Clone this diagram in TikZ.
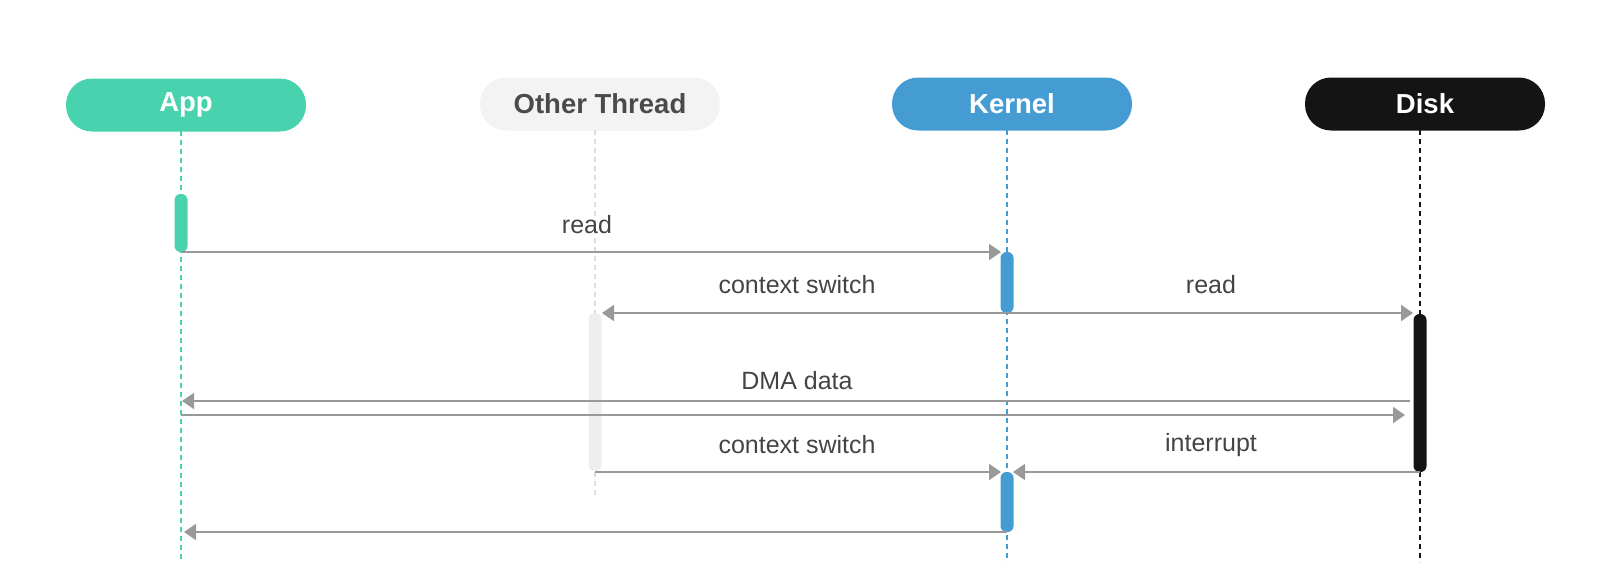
\documentclass[tikz,border=0pt]{standalone}
\usepackage{fontspec}
\setmainfont{Liberation Sans}
\usetikzlibrary{arrows.meta}
\definecolor{appc}{HTML}{48D3AE}
\definecolor{kerc}{HTML}{459CD3}
\definecolor{diskc}{HTML}{141414}
\definecolor{othc}{HTML}{F3F3F3}
\definecolor{othtext}{HTML}{4A4A4A}
\definecolor{arrc}{HTML}{999999}
\definecolor{labc}{HTML}{444444}
\definecolor{othline}{HTML}{DDDDDD}
\definecolor{othbar}{HTML}{EEEEEE}
\begin{document}
\begin{tikzpicture}[x=1pt,y=-1pt,
  head/.style={rounded corners=26pt, minimum width=240pt, minimum height=53pt, inner sep=0pt, font=\fontsize{27.5}{32}\selectfont\bfseries},
  life/.style={dash pattern=on 5pt off 4pt, line width=1.5pt},
  actbar/.style={rounded corners=6pt, minimum width=13pt, inner sep=0pt, outer sep=0pt},
  msg/.style={draw=arrc, line width=2pt, -{Triangle[length=12pt,width=16pt]}},
  lab/.style={font=\fontsize{25}{30}\selectfont, text=labc},
]
\useasboundingbox (0,0) rectangle (1600,562);
% headers
\node[head, fill=appc, text=white] (app) at (186,105) {App};
\node[head, fill=othc, text=othtext] (oth) at (600,104) {Other Thread};
\node[head, fill=kerc, text=white] (ker) at (1012,104) {Kernel};
\node[head, fill=diskc, text=white] (disk) at (1425,104) {Disk};
% lifelines
\coordinate (appT) at (181,131); \coordinate (appB) at (181,562);
\coordinate (othT) at (595,130); \coordinate (othB) at (595,497);
\coordinate (kerT) at (1007,130); \coordinate (kerB) at (1007,562);
\coordinate (diskT) at (1420,130); \coordinate (diskB) at (1420,562);
\draw[life, draw=appc] (appT) -- (appB);
\draw[life, draw=othline] (othT) -- (othB);
\draw[life, draw=kerc] (kerT) -- (kerB);
\draw[life, draw=diskc] (diskT) -- (diskB);
% activation bars
\node[actbar, fill=appc, minimum height=58pt] (ab) at (181,223) {};
\node[actbar, fill=kerc, minimum height=61pt] (kb1) at (1007,282.5) {};
\node[actbar, fill=othbar, minimum height=158pt] (ob) at (595,392) {};
\node[actbar, fill=diskc, minimum height=158pt] (db) at (1420,393) {};
\node[actbar, fill=kerc, minimum height=60pt] (kb2) at (1007,502) {};
% message end points
\coordinate (m1s) at (181,252);  \coordinate (m1e) at (1001,252);
\coordinate (m2s) at (1007,313); \coordinate (m2e) at (602,313);
\coordinate (m3e) at (1413,313);
\coordinate (m4s) at (1410,401); \coordinate (m4e) at (182,401);
\coordinate (m5s) at (181,415);  \coordinate (m5e) at (1405,415);
\coordinate (m6s) at (595,472);  \coordinate (m6e) at (1001,472);
\coordinate (m7s) at (1420,472); \coordinate (m7e) at (1013,472);
\coordinate (m8s) at (1007,532); \coordinate (m8e) at (184,532);
% messages
\draw[msg] (m1s) -- (m1e);
\draw[msg] (m2s) -- (m2e);
\draw[msg] (m2s) -- (m3e);
\draw[msg] (m4s) -- (m4e);
\draw[msg] (m5s) -- (m5e);
\draw[msg] (m6s) -- (m6e);
\draw[msg] (m7s) -- (m7e);
\draw[msg] (m8s) -- (m8e);
% labels
\node[lab] (l1) at (587,225) {read};
\node[lab] (l2) at (797,285) {context switch};
\node[lab] (l3) at (1211,285) {read};
\node[lab] (l4) at (797,381) {DMA data};
\node[lab] (l5) at (797,445) {context switch};
\node[lab] (l6) at (1211,445) {interrupt};
\end{tikzpicture}
\end{document}
